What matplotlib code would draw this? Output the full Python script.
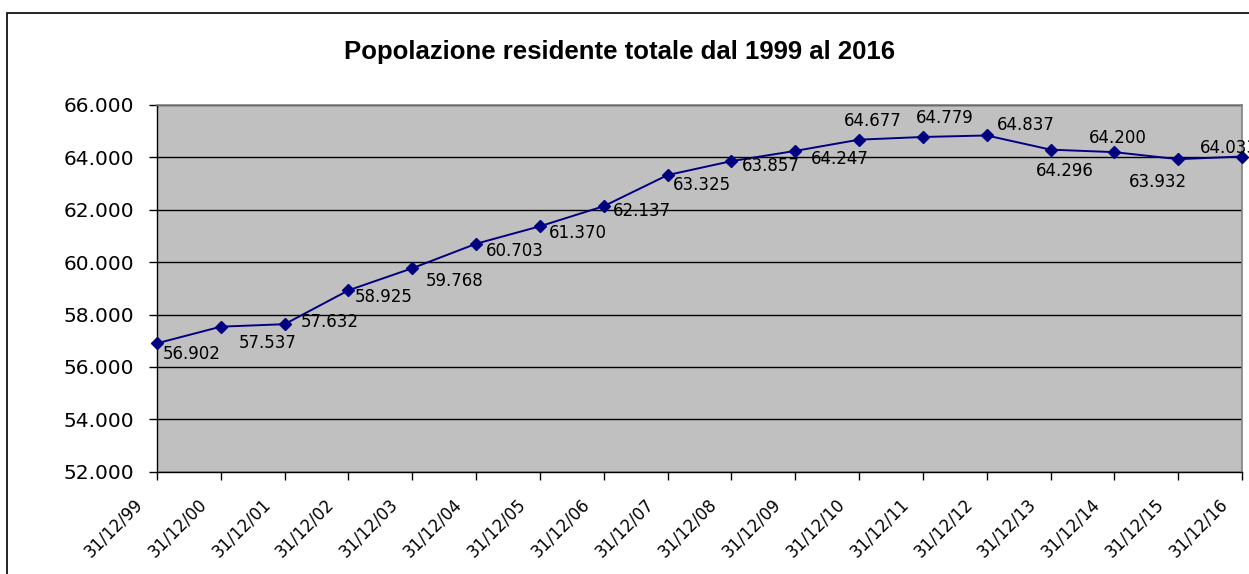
import matplotlib
matplotlib.use("Agg")
import matplotlib.pyplot as plt
from matplotlib.ticker import FuncFormatter, MultipleLocator
from matplotlib.patches import Rectangle
from matplotlib.transforms import ScaledTranslation
from matplotlib import font_manager as fm

# ---- data ----
dates = ["31/12/99", "31/12/00", "31/12/01", "31/12/02", "31/12/03", "31/12/04",
         "31/12/05", "31/12/06", "31/12/07", "31/12/08", "31/12/09", "31/12/10",
         "31/12/11", "31/12/12", "31/12/13", "31/12/14", "31/12/15", "31/12/16"]
population = [56902, 57537, 57632, 58925, 59768, 60703, 61370, 62137, 63325,
              63857, 64247, 64677, 64779, 64837, 64296, 64200, 63932, 64033]
title = "Popolazione residente totale dal 1999 al 2016"

# label placement (pixels: dx to text left edge, dy to text centre, image-down positive)
label_offsets = [(6, 10), (18, 15), (16, -3), (6, 6), (13, 12), (10, 6), (9, 6),
                 (9, 4), (5, 9), (10, 4), (16, 7), (-15, -20), (-7, -20),
                 (10, -11), (-15, 20), (-25, -15), (-49, 22), (-42, -10)]


def it_fmt(v, pos=None):
    return f"{v:,.0f}".replace(",", ".")


def title_font():
    for f in fm.fontManager.ttflist:
        fn = f.fname.lower()
        if "liberationsans-bold." in fn.replace(" ", ""):
            return fm.FontProperties(fname=f.fname, size=18.5)
    return fm.FontProperties(family="DejaVu Sans", weight="bold", size=16)


W, H = 1249, 574
fig = plt.figure(figsize=(W / 100, H / 100), dpi=100)
fig.patch.set_facecolor("white")

# outer chart border (extends beyond right/bottom of the image)
fig.patches.append(Rectangle((7 / W, -0.2), 1.5, 0.2 + 1 - 13 / H,
                             transform=fig.transFigure, fill=False,
                             edgecolor="black", linewidth=1.2))

ax = fig.add_axes([157 / W, 1 - 471.7 / H, (1242 - 157) / W, (471.7 - 105) / H])
ax.set_facecolor("#C0C0C0")

x = list(range(len(dates)))
ax.set_xlim(0, len(dates) - 1)
ax.set_ylim(52000, 66000)
ax.yaxis.set_major_locator(MultipleLocator(2000))
ax.yaxis.set_major_formatter(FuncFormatter(it_fmt))
ax.grid(axis="y", color="black", linewidth=1.0)
ax.set_axisbelow(True)

for s in ["top", "right"]:
    ax.spines[s].set_color("#808080")
    ax.spines[s].set_linewidth(1.2)
for s in ["left", "bottom"]:
    ax.spines[s].set_color("black")
    ax.spines[s].set_linewidth(1.0)

ax.plot(x, population, color="#000080", linewidth=1.4, marker="D",
        markersize=6.5, markerfacecolor="#000080", markeredgecolor="#000080",
        clip_on=False, zorder=3)

for xi, v, (dx, dy) in zip(x, population, label_offsets):
    ax.annotate(it_fmt(v), (xi, v), xytext=(dx, -(dy + 6)),
                textcoords="offset pixels", ha="left", va="baseline",
                fontsize=12, family="DejaVu Sans", color="black",
                annotation_clip=False, zorder=4)

ax.set_xticks(x)
ax.set_xticklabels(dates, rotation=45, ha="right", va="center",
                   rotation_mode="anchor", fontsize=12, family="DejaVu Sans")
ax.tick_params(axis="x", direction="out", length=6, width=1, pad=14, colors="black")
ax.tick_params(axis="y", direction="out", length=6, width=1, pad=10.5,
               labelsize=14.5, colors="black")
shift = ScaledTranslation(-17 / 100, -2 / 100, fig.dpi_scale_trans)
for lab in ax.get_xticklabels():
    lab.set_transform(lab.get_transform() + shift)
for lab in ax.get_yticklabels():
    lab.set_family("DejaVu Sans")

fig.text(620 / W, 1 - 52 / H, title, ha="center", va="center",
         fontproperties=title_font())

fig.savefig("out.png", dpi=100)
